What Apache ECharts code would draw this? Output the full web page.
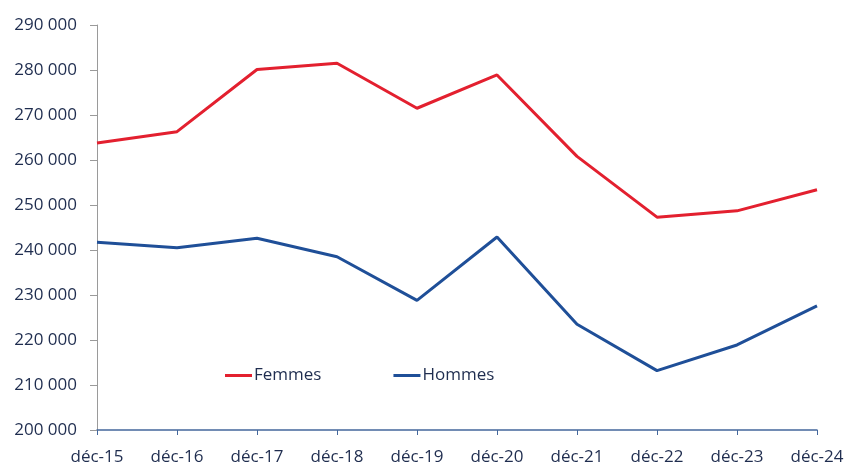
<!DOCTYPE html>
<html>
<head>
<meta charset="utf-8">
<script src="https://cdn.jsdelivr.net/npm/echarts@6/dist/echarts.min.js"></script>
<style>html,body{margin:0;padding:0;background:#fff;}</style>
</head>
<body>
<div id="main" style="width: 847px;height:466px;"></div>
<script>
    var categories = ['déc-15', 'déc-16', 'déc-17', 'déc-18', 'déc-19', 'déc-20', 'déc-21', 'déc-22', 'déc-23', 'déc-24'];
    var femmes = [263800, 266300, 280100, 281500, 271500, 278900, 260800, 247300, 248700, 253400];
    var hommes = [241700, 240500, 242600, 238500, 228800, 242900, 223500, 213200, 218900, 227600];

    var textColor = '#1f2d4f';
    var font = 'Open Sans';

    // 基于准备好的dom，初始化echarts实例
    var myChart = echarts.init(document.getElementById('main'));

    var option = {
        animation: false,
        grid: {left: 97, right: 30, top: 25, bottom: 35},
        legend: {
            left: 220,
            top: 362,
            itemGap: 72,
            itemWidth: 27,
            itemHeight: 3,
            icon: 'rect',
            textStyle: {color: textColor, fontSize: 17, fontFamily: font, padding: [0, 0, 0, -3]},
            data: ['Femmes', 'Hommes']
        },
        xAxis: {
            type: 'category',
            boundaryGap: false,
            data: categories,
            axisLine: {lineStyle: {color: '#44679c', width: 1.5}},
            axisTick: {length: 5, lineStyle: {color: '#44679c'}},
            axisLabel: {color: textColor, fontSize: 17, fontFamily: font, margin: 19, interval: 0}
        },
        yAxis: {
            type: 'value',
            min: 200000,
            max: 290000,
            interval: 10000,
            splitLine: {show: false},
            axisLine: {show: true, lineStyle: {color: '#9a9a9a'}},
            axisTick: {show: true, length: 7, lineStyle: {color: '#9a9a9a'}},
            axisLabel: {
                color: textColor, fontSize: 17, fontFamily: font, margin: 20,
                formatter: function (v) {
                    return String(v).replace(/\B(?=(\d{3})+(?!\d))/g, ' ');
                }
            }
        },
        series: [
            {
                name: 'Femmes',
                type: 'line',
                symbol: 'none',
                data: femmes,
                itemStyle: {color: '#e3202f'},
                lineStyle: {color: '#e3202f', width: 3}
            },
            {
                name: 'Hommes',
                type: 'line',
                symbol: 'none',
                data: hommes,
                itemStyle: {color: '#1f4f98'},
                lineStyle: {color: '#1f4f98', width: 3}
            }
        ]
    };
    myChart.setOption(option);
</script>
</body>
</html>
